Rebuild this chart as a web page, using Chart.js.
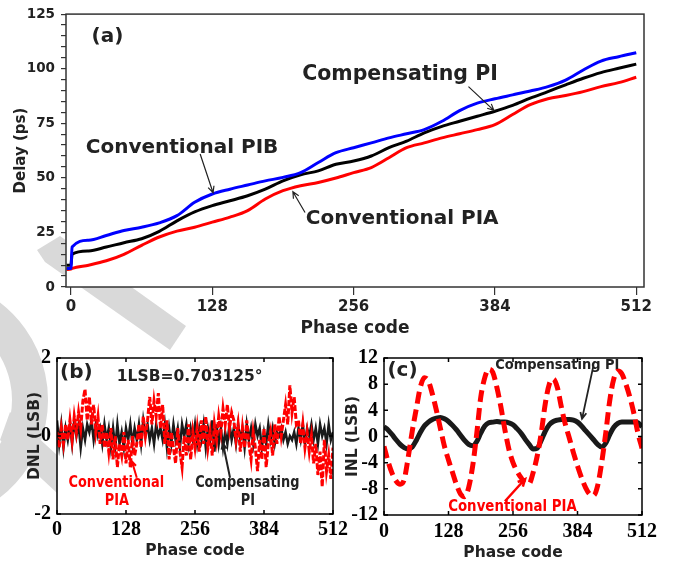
<!DOCTYPE html>
<html>
<head>
<meta charset="utf-8">
<script src="https://cdn.jsdelivr.net/npm/chart.js@4/dist/chart.umd.min.js"></script>
<style>
body { margin: 0; background: #fff; }
#wrap { position: relative; width: 689px; height: 564px; overflow: hidden; }
canvas { position: absolute; left: 0; }
</style>
</head>
<body>
<div id="wrap">
  <canvas id="mark" width="689" height="564" style="top:0"></canvas>
  <canvas id="chartA" width="689" height="340" style="top:0"></canvas>
  <canvas id="chartB" width="689" height="224" style="top:340px"></canvas>
  <canvas id="chartC" width="689" height="224" style="top:340px"></canvas>
</div>
<script>
// ---- data (a): delay vs phase code ----
const codesA = [-4, 0, 1, 16, 32, 48, 64, 80, 96, 112, 128, 144, 160, 176, 192, 208, 224, 240,
  256, 272, 288, 304, 320, 336, 352, 368, 384, 400, 416, 432, 448, 464, 480, 496, 512];
const delayPIB = [8.5, 8.5, 18.3, 21.4, 23.6, 25.9, 27.4, 29.4, 32.7, 38.8, 42.6, 44.8, 46.7, 48.6, 50.2, 52.4, 57, 61.5,
  63.8, 66, 68.3, 70.2, 72.1, 75.9, 80.8, 84.2, 86.2, 88, 89.8, 91.8, 94.8, 99.4, 103.5, 105.5, 107.3];
const delayComp = [10, 10, 15, 16.5, 18.3, 20.3, 22.1, 25.5, 30.3, 34.4, 37.3, 39.5, 41.8, 44.8, 48.6, 51.4, 53.2, 56.2,
  57.7, 60, 63.8, 66.8, 70.6, 73.6, 75.9, 78.2, 80.5, 83.2, 86.5, 89.5, 92.6, 95.6, 98.2, 100.2, 102.1];
const delayPIA = [8, 8.2, 8.5, 10, 12, 15, 19.1, 22.9, 25.6, 27.4, 29.7, 32, 35, 40.3, 44.1, 46.4, 47.9, 49.9,
  52.4, 54.7, 59.2, 63.8, 66, 68.3, 70.2, 72.1, 74.4, 79, 83.5, 86.2, 87.7, 89.5, 91.8, 93.6, 96.1];
const phaseTicks = [0, 128, 256, 384, 512];

// ---- data (b): DNL, one sample every 4 codes ----
const codesDNL = Array.from({ length: 129 }, (_, i) => i * 4);
const dnlPIA = [0.1, -0.3, 0.2, -0.2, 0.3, -0.1, 0.4, -0.1, 0.5, 0.1, 0.6,
  0.2, 0.9, 1.2, 0.4, 1.0, 0.3, 0.8, 0.1, 0.5,
  -0.2, 0.3, -0.3, 0.1, -0.4, 0.2,
  -0.6, 0.0, -0.8, -0.2, -0.5, 0.1, -0.7, -0.1, -0.8, 0.0, -0.5, -0.2,
  0.3, -0.3, 0.5, 0.0,
  0.4, 1.0, 0.3, 0.9, 0.5, 1.1, 0.2, 0.8,
  -0.2, 0.4, -0.6, 0.1,
  -0.3, -0.7, 0.2, -0.4, -0.8, 0.0, -0.5, 0.3, -0.6, 0.1, -0.3,
  0.2, -0.4, 0.4, -0.2, 0.5, -0.3, 0.1, -0.5, 0.3, -0.1,
  0.5, 0.1, 0.7, 0.3, 0.8, 0.2, 0.6, 0.4,
  -0.1, 0.3, -0.4, 0.2, -0.3, 0.4, -0.2, -0.6, 0.1, -0.3,
  -0.9, -0.1, -0.6, 0.2, -0.8, -0.2, 0.1, -0.5,
  0.3, -0.2, 0.5, 0.0, 0.4,
  0.8, 0.3, 1.3, 0.6, 1.0, 0.3,
  0.4, -0.2, 0.3, -0.3, 0.1, -0.4,
  0.0, -0.7, -0.2, -1.0, -0.4, -1.3, -0.1, -0.9, -0.5, -1.1, -0.3];
const dnlComp = [0.4, -0.2, 0.3, -0.3, 0.2, -0.1, 0.3, -0.2, 0.4, 0.0, 0.3, -0.3, 0.2, -0.1, 0.3,
  0.1, 0.4, -0.1, 0.3, 0.0, 0.2, -0.2, 0.3, -0.1, 0.2, -0.3,
  0.2, -0.3, 0.3, -0.2, 0.1, -0.3, 0.2, -0.1, 0.3, -0.2, 0.2, -0.1,
  0.3, -0.2, 0.4, 0.0, 0.3, -0.1, 0.2, -0.2, 0.3, 0.0, 0.2, -0.1,
  0.3, -0.3, 0.2, -0.2, 0.3, -0.1, 0.2, -0.3, 0.3, 0.0, 0.3, -0.2, 0.2, -0.1, 0.3,
  -0.2, 0.2, -0.1, 0.3, -0.3, 0.2, -0.1, 0.4, -0.4, 0.3, -0.2, 0.2, -0.3, 0.1, -0.2, 0.3, -0.1, 0.2,
  -0.2, 0.3, -0.1, 0.2, -0.3, 0.3, -0.1, 0.2, -0.2, 0.3, 0.0, 0.2, -0.3, 0.1, -0.2, 0.3, -0.1, 0.2,
  -0.2, 0.1, 0.0, 0.2, -0.1, 0.1, -0.2, 0.0, -0.1, 0.1, -0.2, 0.2, -0.1, 0.3, -0.2, 0.2, 0.0,
  0.3, -0.1, 0.2, -0.2, 0.3, 0.0, 0.2, -0.2, 0.3, -0.1, 0.1];

// ---- data (c): INL, one sample every 8 codes ----
const codesINL = Array.from({ length: 65 }, (_, i) => i * 8);
const inlPIA = [-1.5, -3.8, -5.6, -6.8, -7.3, -6.6, -3.2, 0.8, 4.2, 7.5, 9.0, 8.5, 6.5, 4.0, 1.2, -1.5,
  -3.6, -5.5, -7.4, -8.8, -9.2, -7.8, -4.5, 0.4, 6.0, 9.0, 10.3, 9.8, 7.5, 4.5, 1.0, -2.0,
  -4.0, -5.3, -6.3, -7.1, -7.2, -5.5, -3.0, 0.5, 5.0, 8.0, 8.8, 7.5, 4.5, 1.8, -0.3, -2.5,
  -4.5, -6.3, -7.8, -8.8, -9.0, -7.5, -4.0, 0.5, 5.5, 8.8, 10.0, 9.6, 8.0, 6.0, 3.5, 0.5, -1.8];
const inlComp = [1.5, 1.0, 0.3, -0.5, -1.2, -1.7, -1.9, -1.6, -0.6, 0.6, 1.6, 2.2, 2.6, 2.8, 2.9, 2.7,
  2.3, 1.7, 1.0, 0.2, -0.6, -1.2, -1.4, -0.8, 0.5, 1.6, 2.1, 2.2, 2.3, 2.2, 2.2, 2.1,
  1.8, 1.2, 0.5, -0.4, -1.2, -1.9, -1.8, -0.6, 0.8, 1.8, 2.3, 2.5, 2.6, 2.6, 2.6, 2.5,
  2.2, 1.6, 0.9, 0.2, -0.5, -1.2, -1.6, -1.0, 0.3, 1.4, 2.0, 2.2, 2.2, 2.2, 2.2, 2.1, 1.5];

const xy = (xs, ys) => xs.map((x, i) => ({ x: x, y: ys[i] }));

Chart.defaults.font.family = '"DejaVu Sans", Verdana, sans-serif';
Chart.defaults.color = '#222';

// faint grey watermark behind the panels
(function () {
  const m = document.getElementById('mark').getContext('2d');
  m.fillStyle = '#d9d9d9';
  m.strokeStyle = '#d9d9d9';
  m.beginPath();
  m.moveTo(37, 250); m.lineTo(60, 236); m.lineTo(186, 326); m.lineTo(170, 350); m.lineTo(45, 262);
  m.closePath(); m.fill();
  m.lineWidth = 36;
  m.beginPath(); m.arc(-75, 400, 105, -1.0, 1.0); m.stroke();
  m.beginPath();
  m.moveTo(0, 440); m.lineTo(57, 493); m.lineTo(57, 455); m.lineTo(10, 412);
  m.closePath(); m.fill();
})();

// white plot area, box round it, optional inward ticks
const framePlugin = {
  id: 'frame',
  beforeDraw(chart) {
    const { ctx, chartArea: a } = chart;
    ctx.save();
    ctx.fillStyle = '#fff';
    ctx.fillRect(a.left, a.top, a.right - a.left, a.bottom - a.top);
    ctx.restore();
  },
  afterDraw(chart, args, opts) {
    const { ctx, chartArea: a } = chart;
    ctx.save();
    ctx.strokeStyle = opts.color;
    ctx.lineWidth = opts.width;
    ctx.strokeRect(a.left, a.top, a.right - a.left, a.bottom - a.top);
    if (opts.inTicks) {
      const len = opts.inTicks;
      ctx.beginPath();
      chart.scales.x.ticks.forEach(t => {
        const px = chart.scales.x.getPixelForValue(t.value);
        ctx.moveTo(px, a.bottom); ctx.lineTo(px, a.bottom - len);
        ctx.moveTo(px, a.top); ctx.lineTo(px, a.top + len);
      });
      chart.scales.y.ticks.forEach(t => {
        const py = chart.scales.y.getPixelForValue(t.value);
        ctx.moveTo(a.left, py); ctx.lineTo(a.left + len, py);
        ctx.moveTo(a.right, py); ctx.lineTo(a.right - len, py);
      });
      ctx.stroke();
    }
    ctx.restore();
  }
};

// labels and arrows placed in data units
const notesPlugin = {
  id: 'notes',
  afterDraw(chart, args, opts) {
    const ctx = chart.ctx, xs = chart.scales.x, ys = chart.scales.y;
    (opts.texts || []).forEach(t => {
      ctx.save();
      ctx.translate(xs.getPixelForValue(t.at[0]), ys.getPixelForValue(t.at[1]));
      ctx.scale(t.sx || 1, 1);
      ctx.font = 'bold ' + t.size + 'px "DejaVu Sans", Verdana, sans-serif';
      ctx.fillStyle = t.color || '#222';
      ctx.textAlign = t.align || 'center';
      ctx.textBaseline = 'middle';
      ctx.fillText(t.text, 0, 0);
      ctx.restore();
    });
    (opts.arrows || []).forEach(ar => {
      const x0 = xs.getPixelForValue(ar.from[0]), y0 = ys.getPixelForValue(ar.from[1]);
      const x1 = xs.getPixelForValue(ar.to[0]), y1 = ys.getPixelForValue(ar.to[1]);
      const ang = Math.atan2(y1 - y0, x1 - x0), h = ar.head || 7;
      ctx.save();
      ctx.strokeStyle = ar.color || '#222';
      ctx.lineWidth = ar.width || 1.2;
      ctx.beginPath();
      ctx.moveTo(x0, y0); ctx.lineTo(x1, y1);
      ctx.moveTo(x1 - h * Math.cos(ang - 0.45), y1 - h * Math.sin(ang - 0.45));
      ctx.lineTo(x1, y1);
      ctx.lineTo(x1 - h * Math.cos(ang + 0.45), y1 - h * Math.sin(ang + 0.45));
      ctx.stroke();
      ctx.restore();
    });
  }
};

const serifTicks = { family: '"Liberation Serif", "Times New Roman", serif', size: 20, weight: 'bold' };
const setPhaseTicks = s => { s.ticks = phaseTicks.map(v => ({ value: v })); };

// ---- (a) ----
new Chart(document.getElementById('chartA'), {
  type: 'line',
  data: {
    datasets: [
      { data: xy(codesA, delayPIB), borderColor: '#0000ff', borderWidth: 3 },
      { data: xy(codesA, delayComp), borderColor: '#000000', borderWidth: 3 },
      { data: xy(codesA, delayPIA), borderColor: '#ff0000', borderWidth: 3 }
    ]
  },
  options: {
    responsive: false,
    animation: false,
    layout: { padding: { left: 0, right: 45, top: 12, bottom: 0 } },
    elements: { point: { radius: 0 }, line: { cubicInterpolationMode: 'monotone' } },
    plugins: {
      legend: { display: false },
      tooltip: { enabled: false },
      frame: { color: '#333', width: 1.5 },
      notes: {
        texts: [
          { text: '(a)', at: [33, 114.5], size: 20 },
          { text: 'Compensating PI', at: [298, 97.3], size: 20.5 },
          { text: 'Conventional PIB', at: [100.6, 63.9], size: 20 },
          { text: 'Conventional PIA', at: [300, 31.1], size: 20 }
        ],
        arrows: [
          { from: [360, 91.8], to: [383, 80.9] },
          { from: [117, 60.9], to: [128.7, 43.2] },
          { from: [212, 34.1], to: [201, 43.6] }
        ]
      }
    },
    scales: {
      x: {
        type: 'linear', min: -4.5, max: 519,
        afterBuildTicks: setPhaseTicks,
        afterFit: s => { s.height = 53; },
        grid: { drawOnChartArea: false, tickLength: 8, color: '#333', lineWidth: 1.2 },
        border: { display: false },
        ticks: { font: { size: 15, weight: 'bold' }, color: '#222', padding: 3, maxRotation: 0, autoSkip: false },
        title: { display: true, text: 'Phase code', font: { size: 17, weight: 'bold' }, color: '#222', padding: { top: 0, bottom: 1 } }
      },
      y: {
        min: 0, max: 125,
        afterFit: s => { s.width = 66; },
        grid: { drawOnChartArea: false, tickLength: 5, color: '#333', lineWidth: 1.2 },
        border: { display: false },
        ticks: {
          stepSize: 5, autoSkip: false, padding: 6, color: '#222',
          font: { size: 13.5, weight: 'bold' },
          callback: v => (v % 25 === 0 ? v : '')
        },
        title: { display: true, text: 'Delay (ps)', font: { size: 15, weight: 'bold' }, color: '#222', padding: { top: 12, bottom: 0 } }
      }
    }
  },
  plugins: [framePlugin, notesPlugin]
});

// ---- (b) ----
new Chart(document.getElementById('chartB'), {
  type: 'line',
  data: {
    datasets: [
      { data: xy(codesDNL, dnlPIA), borderColor: '#ff0000', borderWidth: 3, borderDash: [6, 2] },
      { data: xy(codesDNL, dnlComp), borderColor: '#1a1a1a', borderWidth: 2.5 }
    ]
  },
  options: {
    responsive: false,
    animation: false,
    layout: { padding: { left: 0, right: 356, top: 14, bottom: 0 } },
    elements: { point: { radius: 0 }, line: { tension: 0 } },
    plugins: {
      legend: { display: false },
      tooltip: { enabled: false },
      frame: { color: '#000', width: 1.5, inTicks: 4 },
      notes: {
        texts: [
          { text: '(b)', at: [36, 1.62], size: 20 },
          { text: '1LSB=0.703125°', at: [111, 1.52], size: 15.5, align: 'left' },
          { text: 'Conventional', at: [110, -1.22], size: 15, sx: 0.86, color: '#ff0000' },
          { text: 'PIA', at: [111, -1.67], size: 15, sx: 0.86, color: '#ff0000' },
          { text: 'Compensating', at: [353, -1.22], size: 15, sx: 0.86 },
          { text: 'PI', at: [354, -1.67], size: 15, sx: 0.86 }
        ],
        arrows: [
          { from: [148, -1.07], to: [139, -0.65], color: '#ff0000', width: 2, head: 6 },
          { from: [321, -1.07], to: [308, -0.2], color: '#222', width: 2, head: 6 }
        ]
      }
    },
    scales: {
      x: {
        type: 'linear', min: 0, max: 512,
        afterBuildTicks: setPhaseTicks,
        afterFit: s => { s.height = 50; },
        grid: { display: false, drawTicks: false },
        border: { display: false },
        ticks: { font: serifTicks, color: '#000', padding: 4, maxRotation: 0, autoSkip: false },
        title: { display: true, text: 'Phase code', font: { size: 15.5, weight: 'bold' }, color: '#222', padding: { top: 0, bottom: 4 } }
      },
      y: {
        min: -2, max: 2,
        afterFit: s => { s.width = 57; },
        grid: { display: false, drawTicks: false },
        border: { display: false },
        ticks: { stepSize: 2, autoSkip: false, font: serifTicks, color: '#000', padding: 6 },
        title: { display: true, text: 'DNL (LSB)', font: { size: 15.5, weight: 'bold' }, color: '#222', padding: { top: 26, bottom: 0 } }
      }
    }
  },
  plugins: [framePlugin, notesPlugin]
});

// ---- (c) ----
new Chart(document.getElementById('chartC'), {
  type: 'line',
  data: {
    datasets: [
      { data: xy(codesINL, inlPIA), borderColor: '#ff0000', borderWidth: 5, borderDash: [12, 6] },
      { data: xy(codesINL, inlComp), borderColor: '#1a1a1a', borderWidth: 5 }
    ]
  },
  options: {
    responsive: false,
    animation: false,
    layout: { padding: { left: 340, right: 47, top: 16, bottom: 0 } },
    elements: { point: { radius: 0 }, line: { cubicInterpolationMode: 'monotone' } },
    plugins: {
      legend: { display: false },
      tooltip: { enabled: false },
      frame: { color: '#000', width: 1.5, inTicks: 4 },
      notes: {
        texts: [
          { text: '(c)', at: [36.7, 10], size: 20 },
          { text: 'Compensating PI', at: [344, 10.9], size: 14, sx: 0.93 },
          { text: 'Conventional PIA', at: [255, -10.85], size: 15, sx: 0.89, color: '#ff0000' }
        ],
        arrows: [
          { from: [415, 10.6], to: [393, 2.7], color: '#222', width: 1.8, head: 7 },
          { from: [240, -9.9], to: [280, -6.5], color: '#ff0000', width: 2.5, head: 8 }
        ]
      }
    },
    scales: {
      x: {
        type: 'linear', min: 0, max: 512,
        afterBuildTicks: setPhaseTicks,
        afterFit: s => { s.height = 49; },
        grid: { display: false, drawTicks: false },
        border: { display: false },
        ticks: { font: serifTicks, color: '#000', padding: 5, maxRotation: 0, autoSkip: false },
        title: { display: true, text: 'Phase code', font: { size: 15.5, weight: 'bold' }, color: '#222', padding: { top: 0, bottom: 2 } }
      },
      y: {
        min: -12, max: 12,
        afterFit: s => { s.width = 44; },
        grid: { display: false, drawTicks: false },
        border: { display: false },
        ticks: { stepSize: 4, autoSkip: false, font: serifTicks, color: '#000', padding: 6 },
        title: { display: true, text: 'INL (LSB)', font: { size: 15.5, weight: 'bold' }, color: '#222', padding: { top: 4, bottom: 0 } }
      }
    }
  },
  plugins: [framePlugin, notesPlugin]
});
</script>
</body>
</html>
